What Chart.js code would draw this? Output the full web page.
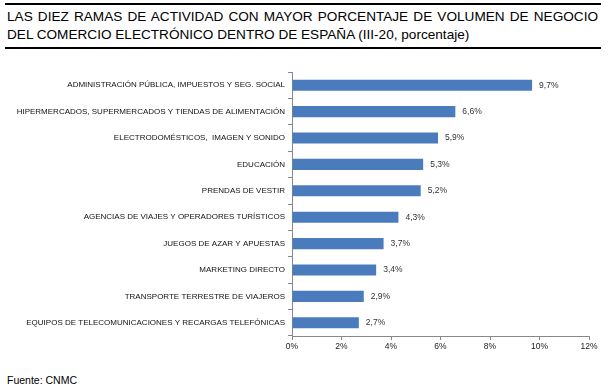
<!DOCTYPE html>
<html>
<head>
<meta charset="utf-8">
<script src="https://cdn.jsdelivr.net/npm/chart.js@4"></script>
<style>
  body { margin: 0; background: #fff; font-family: "Liberation Sans", Arial, sans-serif; }
  #wrap { position: relative; width: 608px; height: 392px; overflow: hidden; }
  #title { position: absolute; left: 5px; top: 3px; width: 596px; border-top: 2px solid #000; border-bottom: 2px solid #000; padding: 3px 0 3px 2px; font-size: 13.6px; line-height: 18px; color: #000; box-sizing: border-box; }
  #title .l1 { text-align: justify; text-align-last: justify; padding-right: 3px; white-space: nowrap; }
  #box { position: absolute; left: 0; top: 60px; width: 608px; height: 300px; }
  #src { position: absolute; left: 7px; top: 374px; font-size: 10.5px; color: #000; }
</style>
</head>
<body>
<div id="wrap">
  <div id="title">
    <div class="l1">LAS DIEZ RAMAS DE ACTIVIDAD CON MAYOR PORCENTAJE DE VOLUMEN DE NEGOCIO</div>
    <div>DEL COMERCIO ELECTRÓNICO DENTRO DE ESPAÑA (III-20, porcentaje)</div>
  </div>
  <div id="box"><canvas id="chart" width="608" height="300"></canvas></div>
  <div id="src">Fuente: CNMC</div>
</div>
<script>
// categories and values (III-20, %)
const ramas = [
  'ADMINISTRACIÓN PÚBLICA, IMPUESTOS Y SEG. SOCIAL',
  'HIPERMERCADOS, SUPERMERCADOS Y TIENDAS DE ALIMENTACIÓN',
  'ELECTRODOMÉSTICOS,  IMAGEN Y SONIDO',
  'EDUCACIÓN',
  'PRENDAS DE VESTIR',
  'AGENCIAS DE VIAJES Y OPERADORES TURÍSTICOS',
  'JUEGOS DE AZAR Y APUESTAS',
  'MARKETING DIRECTO',
  'TRANSPORTE TERRESTRE DE VIAJEROS',
  'EQUIPOS DE TELECOMUNICACIONES Y RECARGAS TELEFÓNICAS'
];
const porcentaje = [9.7, 6.6, 5.9, 5.3, 5.2, 4.3, 3.7, 3.4, 2.9, 2.7];
const ejeMin = 0;
const ejeMax = 12;
const ejePaso = 2;

const fmt = v => v.toFixed(1).replace('.', ',') + '%';

// value labels right of each bar
const etiquetas = {
  id: 'etiquetas',
  afterDatasetsDraw(chart) {
    const ctx = chart.ctx;
    const meta = chart.getDatasetMeta(0);
    ctx.save();
    ctx.font = '8.5px "Liberation Sans", Arial, sans-serif';
    ctx.fillStyle = '#333';
    ctx.textBaseline = 'middle';
    meta.data.forEach((bar, i) => {
      ctx.fillText(fmt(porcentaje[i]), bar.x + 7, bar.y);
    });
    ctx.restore();
  }
};

new Chart(document.getElementById('chart'), {
  type: 'bar',
  data: {
    labels: ramas,
    datasets: [{
      data: porcentaje,
      backgroundColor: '#4a7bbd',
      borderWidth: 0,
      barPercentage: 0.42,
      categoryPercentage: 1
    }]
  },
  options: {
    indexAxis: 'y',
    responsive: false,
    animation: false,
    layout: { padding: { top: 12, right: 19, left: 0, bottom: 0 } },
    plugins: { legend: { display: false }, tooltip: { enabled: false } },
    scales: {
      x: {
        min: ejeMin,
        max: ejeMax,
        afterFit(scale) { scale.height = 24; },
        ticks: {
          stepSize: ejePaso,
          callback: v => v + '%',
          font: { family: '"Liberation Sans", Arial, sans-serif', size: 8.5 },
          color: '#222',
          padding: 2,
          maxRotation: 0
        },
        grid: { drawOnChartArea: false, tickLength: 4, color: '#888' },
        border: { color: '#888' }
      },
      y: {
        afterFit(scale) { scale.width = 292; },
        ticks: {
          font: { family: '"Liberation Sans", Arial, sans-serif', size: 8 },
          color: '#111',
          padding: 3,
          autoSkip: false
        },
        grid: { drawOnChartArea: false, offset: true, tickLength: 4, color: '#888' },
        border: { color: '#888' }
      }
    }
  },
  plugins: [etiquetas]
});
</script>
</body>
</html>
